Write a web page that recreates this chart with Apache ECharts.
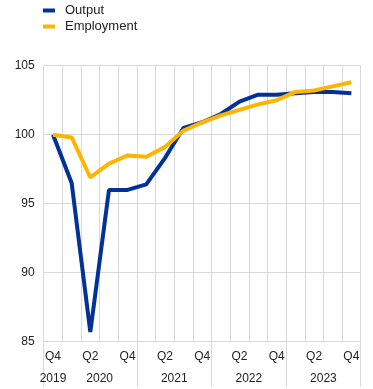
<!DOCTYPE html>
<html><head><meta charset="utf-8">
<script src="https://cdn.jsdelivr.net/npm/echarts@6/dist/echarts.min.js"></script>
<style>html,body{margin:0;padding:0;background:#fff}#c{width:373px;height:389px}</style>
</head><body><div id="c"></div>
<script>
const categories = ['Q4','Q1','Q2','Q3','Q4','Q1','Q2','Q3','Q4','Q1','Q2','Q3','Q4','Q1','Q2','Q3','Q4'];
const output = [100, 96.5, 85.7, 96.0, 96.0, 96.4, 98.3, 100.5, 100.9, 101.5, 102.4, 102.9, 102.9, 103.0, 103.1, 103.1, 103.0];
const employment = [100, 99.8, 96.9, 97.9, 98.5, 98.4, 99.1, 100.3, 100.9, 101.4, 101.8, 102.2, 102.5, 103.1, 103.2, 103.5, 103.8];
const yearLabels = ['2019','2020','2021','2022','2023'];
const yearCenters = [0.5, 3, 7, 11, 15];
const yearBounds = [0, 5, 9, 13, 17];
const yTicks = [85, 90, 95, 100, 105];

const font = 'Liberation Sans, Arial, sans-serif';
const chart = echarts.init(document.getElementById('c'), null, {renderer:'canvas'});
chart.setOption({
  animation: false,
  textStyle: {fontFamily: font},
  legend: {
    orient: 'vertical', left: 38, top: -1,
    icon: 'rect', itemWidth: 12, itemHeight: 4, itemGap: 3,
    textStyle: {fontFamily: font, fontSize: 13, color: '#222', lineHeight: 13, padding: [0,0,0,5]},
    data: ['Output','Employment']
  },
  grid: {left: 43.7, right: 12.3, top: 65.7, bottom: 47.3, containLabel: false},
  xAxis: [{
    type: 'category', data: categories, boundaryGap: true,
    axisLine: {show: true, lineStyle: {color: '#d9d9d9'}},
    axisTick: {show: false},
    splitLine: {show: true, interval: 0, lineStyle: {color: '#d9d9d9', width: 1}},
    axisLabel: {interval: 1, margin: 9, fontSize: 12, color: '#222', fontFamily: font}
  }, {
    type: 'value', min: 0, max: 17, position: 'bottom',
    axisLine: {show: false},
    splitLine: {show: false},
    axisTick: {show: true, customValues: yearBounds, length: 45, lineStyle: {color: '#d9d9d9'}},
    axisLabel: {customValues: yearCenters, margin: 31, fontSize: 12, color: '#222', fontFamily: font,
      formatter: v => { const i = yearCenters.indexOf(v); return i >= 0 ? yearLabels[i] : ''; }}
  }],
  yAxis: {
    type: 'value', min: yTicks[0], max: yTicks[yTicks.length-1], interval: 5,
    axisLine: {show: false}, axisTick: {show: false},
    splitLine: {lineStyle: {color: '#d9d9d9'}},
    axisLabel: {margin: 9, fontSize: 12, color: '#222', fontFamily: font}
  },
  series: [
    {name: 'Output', type: 'line', data: output, showSymbol: false, symbol: 'none',
     lineStyle: {width: 4, color: '#003299'}, itemStyle: {color: '#003299'}},
    {name: 'Employment', type: 'line', data: employment, showSymbol: false, symbol: 'none',
     lineStyle: {width: 4, color: '#ffb400'}, itemStyle: {color: '#ffb400'}}
  ]
});
</script></body></html>
